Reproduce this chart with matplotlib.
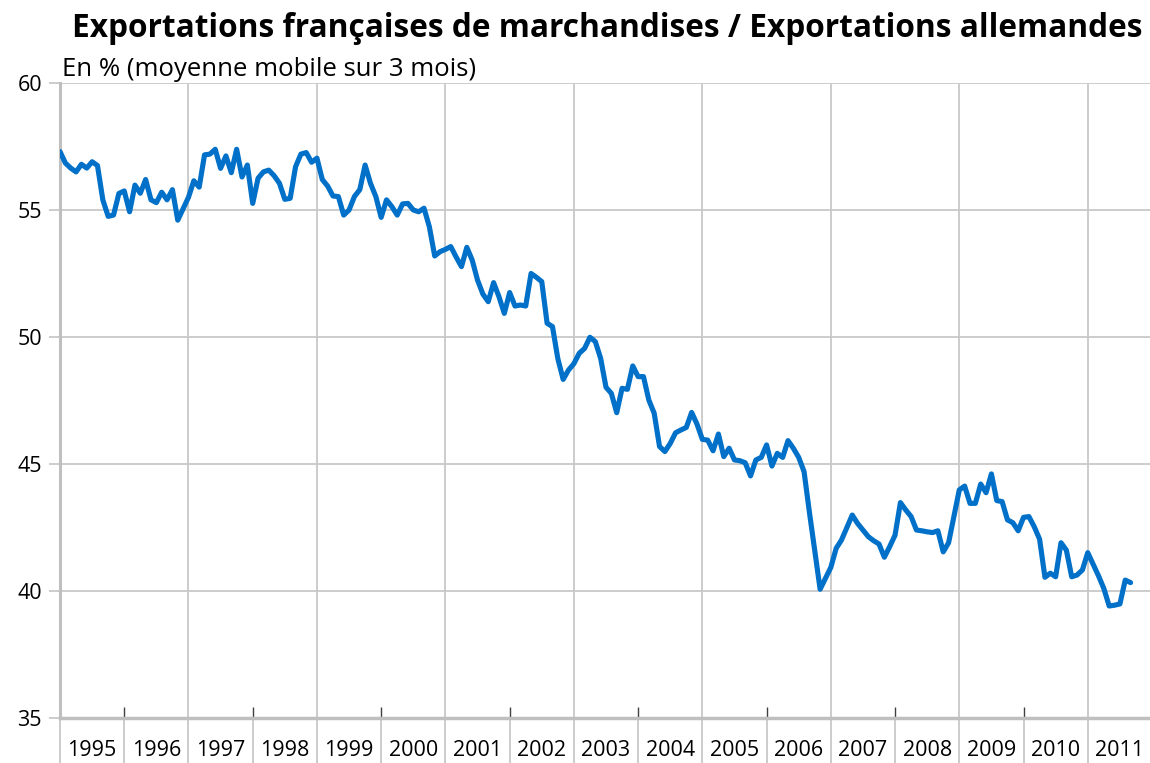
import matplotlib
matplotlib.use('Agg')
import matplotlib.pyplot as plt
import numpy as np

plt.rcParams['font.family'] = ['Open Sans', 'DejaVu Sans']

# monthly values, 3-month moving average, %
y1995 = [57.3, 56.85, 56.65, 56.5, 56.8, 56.65, 56.9, 56.75, 55.4, 54.75, 54.8, 55.65]
y1996 = [55.75, 54.93, 55.98, 55.66, 56.2, 55.4, 55.29, 55.7, 55.4, 55.8, 54.6, 55.05]
y1997 = [55.5, 56.15, 55.9, 57.17, 57.2, 57.39, 56.64, 57.13, 56.47, 57.39, 56.3, 56.77]
y1998 = [55.26, 56.25, 56.5, 56.57, 56.35, 56.05, 55.42, 55.46, 56.7, 57.2, 57.26, 56.88]
y1999 = [57.04, 56.2, 55.94, 55.55, 55.53, 54.8, 55.0, 55.53, 55.8, 56.77, 56.05, 55.53]
y2000 = [54.71, 55.4, 55.13, 54.8, 55.24, 55.26, 55.0, 54.93, 55.07, 54.34, 53.19, 53.36]
y2001 = [53.45, 53.56, 53.15, 52.77, 53.53, 53.03, 52.24, 51.69, 51.39, 52.14, 51.59, 50.93]
y2002 = [51.75, 51.22, 51.26, 51.22, 52.5, 52.35, 52.18, 50.54, 50.41, 49.15, 48.33, 48.7]
y2003 = [48.95, 49.36, 49.55, 49.99, 49.82, 49.16, 48.02, 47.78, 47.02, 47.98, 47.94, 48.86]
y2004 = [48.44, 48.44, 47.52, 47.0, 45.69, 45.49, 45.81, 46.23, 46.34, 46.44, 47.03, 46.57]
y2005 = [45.97, 45.94, 45.52, 46.18, 45.29, 45.62, 45.16, 45.13, 45.05, 44.53, 45.16, 45.26]
y2006 = [45.75, 44.92, 45.42, 45.26, 45.92, 45.62, 45.26, 44.7, 43.1, 41.6, 40.07, 40.5]
y2007 = [40.93, 41.68, 42.01, 42.5, 42.99, 42.66, 42.4, 42.14, 41.98, 41.85, 41.33, 41.75]
y2008 = [42.2, 43.48, 43.19, 42.93, 42.4, 42.37, 42.33, 42.3, 42.37, 41.54, 41.9, 42.95]
y2009 = [43.98, 44.13, 43.45, 43.45, 44.21, 43.87, 44.61, 43.56, 43.52, 42.8, 42.69, 42.37]
y2010 = [42.9, 42.93, 42.53, 42.04, 40.54, 40.7, 40.56, 41.9, 41.61, 40.56, 40.63, 40.83]
y2011 = [41.51, 41.05, 40.6, 40.1, 39.41, 39.44, 39.49, 40.43, 40.33]

years = list(range(1995, 2012))
y_ticks = [35, 40, 45, 50, 55, 60]

values = (y1995 + y1996 + y1997 + y1998 + y1999 + y2000 + y2001 + y2002 + y2003
          + y2004 + y2005 + y2006 + y2007 + y2008 + y2009 + y2010 + y2011)
months = np.arange(len(values))

grid_col = '#C8C8C8'

fig = plt.figure(figsize=(11.5, 7.63), dpi=100)
ax = fig.add_axes([60 / 1150, 45 / 763, 1092 / 1150, 635 / 763])

ax.set_xlim(0, 12 * len(years))
ax.set_ylim(35, 60)

# gridlines
ax.set_yticks(y_ticks)
ax.yaxis.grid(True, color=grid_col, linewidth=1.3)
for k in range(2, len(years), 2):
    ax.axvline(12 * k, color=grid_col, linewidth=1.3, zorder=1)
ax.set_axisbelow(True)

ax.plot(months, values, color='#0070C8', linewidth=3.7, solid_joinstyle='round',
        solid_capstyle='round', zorder=3)

# small black ticks inside, every other year
ax.vlines([12 * k for k in range(1, len(years), 2)], 0, 11 / 635,
          transform=ax.get_xaxis_transform(), color='#404040', linewidth=1.0, zorder=2)

# year separators below axis + centred labels
ax.set_xticks([12 * k for k in range(len(years) + 1)])
ax.set_xticklabels([])
ax.tick_params(axis='x', which='major', direction='out', length=45, color=grid_col, width=1.3)
ax.set_xticks([12 * k + 6 for k in range(len(years))], minor=True)
ax.set_xticklabels([str(y) for y in years], minor=True)
ax.tick_params(axis='x', which='minor', length=0, pad=16, labelsize=15.5)

ax.tick_params(axis='y', direction='out', length=8, color=grid_col, width=1.3,
               labelsize=15.5, pad=5)

for side in ['top', 'right']:
    ax.spines[side].set_visible(False)
ax.spines['left'].set_color('#BFBFBF')
ax.spines['left'].set_linewidth(2.2)
ax.spines['bottom'].set_color('#BFBFBF')
ax.spines['bottom'].set_linewidth(2.5)

fig.text(0.528, 0.962, 'Exportations françaises de marchandises / Exportations allemandes',
         ha='center', va='center', fontsize=22.8, fontweight='bold')
fig.text(62 / 1150, 1 - 70 / 763, 'En % (moyenne mobile sur 3 mois)',
         ha='left', va='center', fontsize=18.5)

fig.savefig('out.png', dpi=100)
plt.close(fig)
